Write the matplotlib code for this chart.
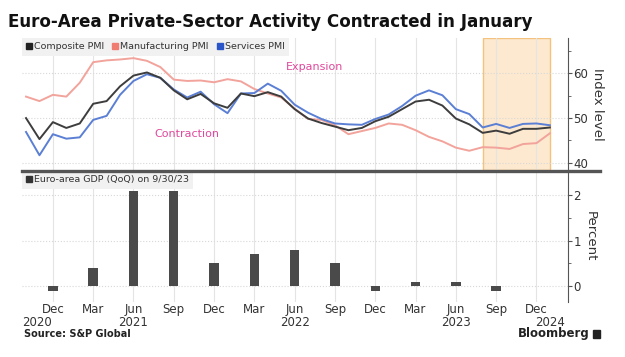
import matplotlib
matplotlib.use("Agg")
import matplotlib.pyplot as plt
from matplotlib.lines import Line2D
from matplotlib.patches import Rectangle
from matplotlib.ticker import MultipleLocator

plt.rcParams['font.family'] = ['DejaVu Sans']

# monthly PMI readings, Oct 2020 .. Jan 2024
months = ['2020-10', '2020-11', '2020-12',
          '2021-01', '2021-02', '2021-03', '2021-04', '2021-05', '2021-06',
          '2021-07', '2021-08', '2021-09', '2021-10', '2021-11', '2021-12',
          '2022-01', '2022-02', '2022-03', '2022-04', '2022-05', '2022-06',
          '2022-07', '2022-08', '2022-09', '2022-10', '2022-11', '2022-12',
          '2023-01', '2023-02', '2023-03', '2023-04', '2023-05', '2023-06',
          '2023-07', '2023-08', '2023-09', '2023-10', '2023-11', '2023-12',
          '2024-01']
composite = [50.0, 45.3, 49.1, 47.8, 48.8, 53.2, 53.8, 57.1, 59.5, 60.2, 59.0, 56.2,
             54.2, 55.4, 53.3, 52.3, 55.5, 54.9, 55.8, 54.8, 52.0, 49.9, 48.9, 48.1,
             47.3, 47.8, 49.3, 50.3, 52.0, 53.7, 54.1, 52.8, 49.9, 48.6, 46.7, 47.2,
             46.5, 47.6, 47.6, 47.9]
manufacturing = [54.8, 53.8, 55.2, 54.8, 57.9, 62.5, 62.9, 63.1, 63.4, 62.8, 61.4, 58.6,
                 58.3, 58.4, 58.0, 58.7, 58.2, 56.5, 55.5, 54.6, 52.1, 49.8, 49.6, 48.4,
                 46.4, 47.1, 47.8, 48.8, 48.5, 47.3, 45.8, 44.8, 43.4, 42.7, 43.5, 43.4,
                 43.1, 44.2, 44.4, 46.6]
services = [46.9, 41.7, 46.4, 45.4, 45.7, 49.6, 50.5, 55.2, 58.3, 59.8, 59.0, 56.4,
            54.6, 55.9, 53.1, 51.1, 55.5, 55.6, 57.7, 56.1, 53.0, 51.2, 49.8, 48.8,
            48.6, 48.5, 49.8, 50.8, 52.7, 55.0, 56.2, 55.1, 52.0, 50.9, 47.9, 48.7,
            47.8, 48.7, 48.8, 48.4]

# quarterly GDP growth, plotted at quarter-end month
gdp_months = ['2020-12', '2021-03', '2021-06', '2021-09', '2021-12', '2022-03',
              '2022-06', '2022-09', '2022-12', '2023-03', '2023-06', '2023-09']
gdp = [-0.1, 0.4, 2.1, 2.1, 0.5, 0.7, 0.8, 0.5, -0.1, 0.1, 0.1, -0.1]

shade_start, shade_end = '2023-08', '2024-01'

tick_months = ['2020-12', '2021-03', '2021-06', '2021-09', '2021-12', '2022-03',
               '2022-06', '2022-09', '2022-12', '2023-03', '2023-06', '2023-09', '2023-12']
tick_labels = ['Dec', 'Mar', 'Jun', 'Sep', 'Dec', 'Mar', 'Jun', 'Sep', 'Dec',
               'Mar', 'Jun', 'Sep', 'Dec']
year_labels = ['2020', '2021', '2022', '2023', '2024']
year_pos = [0.8, 8, 20, 32, 39]

idx = {m: i for i, m in enumerate(months)}
x = list(range(len(months)))
ticks = [idx[m] for m in tick_months]

W, H = 625, 357
fig = plt.figure(figsize=(W / 100, H / 100), dpi=100)
fig.patch.set_facecolor('white')


def box(left, top, right, bottom):
    return [left / W, 1 - bottom / H, (right - left) / W, (bottom - top) / H]


grid_c = '#e4e4e4'
ax1 = fig.add_axes(box(22, 38, 568, 170))
ax2 = fig.add_axes(box(22, 171, 568, 302))

for ax in (ax1, ax2):
    ax.set_xlim(-0.3, 40.35)
    ax.set_xticks(ticks)
    for s in ('top', 'left', 'bottom'):
        ax.spines[s].set_visible(False)
    ax.spines['right'].set_color('#555555')
    ax.yaxis.tick_right()
    ax.yaxis.set_label_position('right')
    ax.tick_params(axis='y', colors='#555555', labelcolor='#333333', labelsize=8.5,
                   length=3, pad=1)
    ax.tick_params(axis='y', which='minor', colors='#555555', length=2)
    ax.tick_params(axis='x', length=0)
    ax.grid(axis='x', color=grid_c, linewidth=0.8)
    ax.grid(axis='y', color='#d8d8d8', linewidth=0.8, linestyle=':')
    ax.set_axisbelow(True)

# top panel: PMI lines
ax1.axvspan(idx[shade_start], idx[shade_end], facecolor='#fde9cf', edgecolor='#f2c27e',
            linewidth=1, zorder=0.5)
ax1.plot(x, manufacturing, color='#f2a39b', linewidth=1.4, zorder=3)
ax1.plot(x, services, color='#5a7fd4', linewidth=1.4, zorder=3)
ax1.plot(x, composite, color='#3d3d3d', linewidth=1.4, zorder=4)
ax1.set_ylim(38.4, 67.9)
ax1.set_yticks([40, 50, 60])
ax1.yaxis.set_minor_locator(MultipleLocator(5))
ax1.set_xticklabels([])
ax1.set_ylabel('Index level', rotation=270, labelpad=11, fontsize=9.5, color='#333333')

ax1.text(21.5, 61.5, 'Expansion', color='#e0489c', fontsize=8, ha='center', va='center')
ax1.text(12.0, 46.5, 'Contraction', color='#e0489c', fontsize=8, ha='center', va='center')

handles = [Line2D([], [], marker='s', linestyle='none', color=c, markersize=5)
           for c in ('#222222', '#f07b70', '#2a55c8')]
leg = ax1.legend(handles, ['Composite PMI', 'Manufacturing PMI', 'Services PMI'],
                 loc='upper left', ncol=3, fontsize=6.8, frameon=True, fancybox=False,
                 borderaxespad=0, handlelength=0.6, handletextpad=0.2, columnspacing=0.9,
                 borderpad=0.45, labelcolor='#333333')
leg.get_frame().set_facecolor('#f1f1f1')
leg.get_frame().set_edgecolor('none')
leg.get_frame().set_alpha(1)

# bottom panel: GDP bars
ax2.bar([idx[m] for m in gdp_months], gdp, width=0.7, color='#4a4a4a', zorder=3)
ax2.set_ylim(-0.35, 2.53)
ax2.set_yticks([0, 1, 2])
ax2.yaxis.set_minor_locator(MultipleLocator(0.5))
ax2.set_ylabel('Percent', rotation=270, labelpad=11, fontsize=9.5, color='#333333')
ax2.set_xticklabels(tick_labels, fontsize=8.5, color='#333333')
ax2.tick_params(axis='x', pad=1)
for yl, yp in zip(year_labels, year_pos):
    ax2.annotate(yl, xy=(yp, 0), xycoords=('data', 'axes fraction'),
                 xytext=(0, -10), textcoords='offset points',
                 ha='center', va='top', fontsize=8.5, color='#333333')

leg2 = ax2.legend([Line2D([], [], marker='s', linestyle='none', color='#333333', markersize=5)],
                  ['Euro-area GDP (QoQ) on 9/30/23'], loc='upper left', fontsize=6.8,
                  frameon=True, fancybox=False, borderaxespad=0, handlelength=0.6,
                  handletextpad=0.2, borderpad=0.45, labelcolor='#333333')
leg2.get_frame().set_facecolor('#f1f1f1')
leg2.get_frame().set_edgecolor('none')
leg2.get_frame().set_alpha(1)

# thick separator between panels
fig.add_artist(Line2D([22 / W, 600 / W], [1 - 170.5 / H, 1 - 170.5 / H],
                      color='#555555', linewidth=2.4))

fig.text(8 / W, 1 - 22 / H, 'Euro-Area Private-Sector Activity Contracted in January',
         fontsize=12.1, fontweight='bold', color='#111111', va='center', ha='left')
fig.text(24 / W, 1 - 334 / H, 'Source: S&P Global', fontsize=7, fontweight='bold',
         color='#222222', va='center', ha='left')
fig.text(590 / W, 1 - 334 / H, 'Bloomberg', fontsize=8.5, fontweight='bold',
         color='#222222', va='center', ha='right')
fig.add_artist(Rectangle((593 / W, 1 - 338 / H), 7 / W, 8 / H, color='#222222'))

fig.savefig('out.png', dpi=100, facecolor='white')
